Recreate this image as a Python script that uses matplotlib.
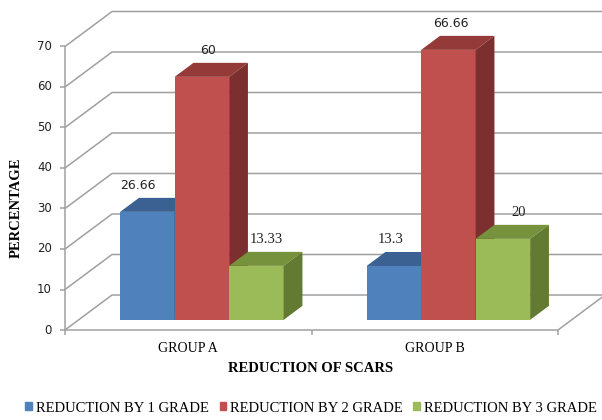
import matplotlib.pyplot as plt
from matplotlib.patches import Polygon, Patch

groups = ["GROUP A", "GROUP B"]
series = ["REDUCTION BY 1 GRADE", "REDUCTION BY 2 GRADE", "REDUCTION BY 3 GRADE"]
values = [
    [26.66, 13.3],   # by 1 grade
    [60, 66.66],     # by 2 grade
    [13.33, 20],     # by 3 grade
]
labels = [["26.66", "13.3"], ["60", "66.66"], ["13.33", "20"]]
yticks = [0, 10, 20, 30, 40, 50, 60, 70]

front = ["#4F81BD", "#C0504D", "#9BBB59"]
top = ["#3B6192", "#943B39", "#76923C"]
side = ["#345580", "#7B2F2E", "#627A32"]
serif_label = [[False, True], [False, False], [True, True]]

# pixel geometry of the fake 3d box
W, H = 602, 420
X0, Y0 = 65, 330          # front-left floor corner
CAT_PX = 246.5            # width of one category
VAL_PX = 4.05             # pixels per percent
DEPTH = (47, 35)          # wall depth offset (right, up)

fig = plt.figure(figsize=(W / 100, H / 100), dpi=100)
ax = fig.add_axes([0, 0, 1, 1])
ax.set_xlim((0 - X0) / CAT_PX - 0.5, (W - X0) / CAT_PX - 0.5)
ax.set_ylim((Y0 - H) / VAL_PX, Y0 / VAL_PX)
ax.axis("off")

dx, dy = DEPTH[0] / CAT_PX, DEPTH[1] / VAL_PX
left, right = -0.5, len(groups) - 0.5
grid = dict(color="#A0A0A0", lw=1.1, zorder=1, solid_capstyle="butt")

# walls and floor
for v in yticks:
    ax.plot([left, left + dx, right + dx + 0.1], [v, v + dy, v + dy], **grid)
ax.plot([left, right, right + dx], [0, 0, dy], **grid)
ax.plot([left, left], [0, yticks[-1]], **grid)
for v in yticks:
    ax.plot([left - 5 / CAT_PX, left], [v, v], **grid)
    ax.text(left - 13 / CAT_PX, v, str(v), ha="right", va="center",
            fontsize=8.5, color="#222222")
for i in range(len(groups) + 1):
    ax.plot([left + i, left + i], [0, -5 / VAL_PX], **grid)

# bars sit a bit behind the front edge and have 40% of the wall depth
bar_w = 54.5 / CAT_PX
off = 0.29
bx, by = dx * off, dy * off
tx, ty = dx * 0.4, dy * 0.4
nudge = [[-10, -3], [6, 2], [10, 16]]

for j, name in enumerate(series):
    for i, v in enumerate(values[j]):
        x = i - 1.5 * bar_w + j * bar_w + bx
        ax.bar(x, v, width=bar_w, bottom=by, align="edge",
               color=front[j], zorder=3 + j)
        b, t = by, by + v
        ax.add_patch(Polygon([(x, t), (x + bar_w, t), (x + bar_w + tx, t + ty),
                              (x + tx, t + ty)], closed=True, color=top[j],
                             zorder=3 + j, lw=0))
        ax.add_patch(Polygon([(x + bar_w, b), (x + bar_w, t),
                              (x + bar_w + tx, t + ty), (x + bar_w + tx, b + ty)],
                             closed=True, color=side[j], zorder=3 + j, lw=0))
        if serif_label[j][i]:
            font, size = "Liberation Serif", 10.5
        else:
            font, size = "DejaVu Sans", 9
        ax.text(x + bar_w / 2 + nudge[j][i] / CAT_PX, t + ty + 12 / VAL_PX,
                labels[j][i], ha="center", va="center", fontsize=size,
                family=font, color="#222222", zorder=10)

for i, g in enumerate(groups):
    ax.text(i, -18 / VAL_PX, g, ha="center", va="center", fontsize=10,
            family="Liberation Serif")

fig.text(311 / W, 1 - 369 / H, "REDUCTION OF SCARS", ha="center", va="center",
         fontsize=10.5, fontweight="bold", family="Liberation Serif")
fig.text(16 / W, 1 - 208 / H, "PERCENTAGE", ha="center", va="center",
         rotation=90, fontsize=10.5, fontweight="bold", family="Liberation Serif")

handles = [Patch(color=c, label=s) for c, s in zip(front, series)]
fig.legend(handles=handles, loc="center", bbox_to_anchor=(311 / W, 1 - 408 / H),
           ncol=3, frameon=False, handlelength=0.45, handleheight=0.45,
           handletextpad=0.25, columnspacing=0.75,
           prop={"family": "Liberation Serif", "size": 10.5})

fig.savefig("out.png", dpi=100)
